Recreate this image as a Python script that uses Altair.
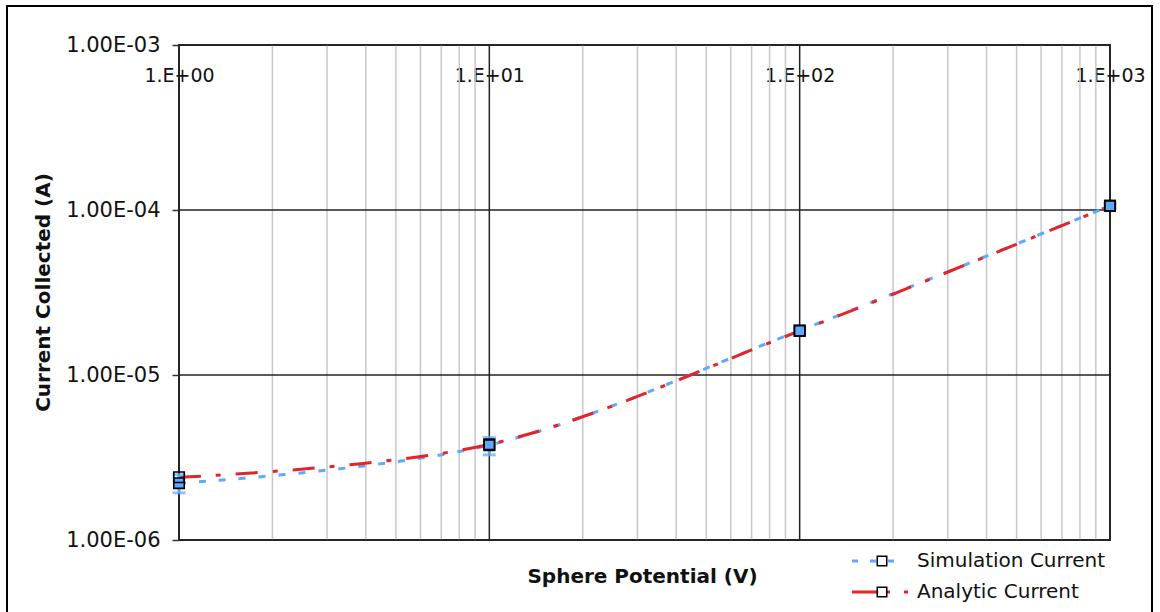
import altair as alt
import pandas as pd

# ---- data ----
potential = [1, 10, 100, 1000]
simulation_current = [2.21e-6, 3.76e-6, 1.86e-5, 1.06e-4]
simulation_low = [1.93e-6, 3.28e-6, 1.81e-5, 1.03e-4]
simulation_high = [2.49e-6, 4.18e-6, 1.91e-5, 1.09e-4]
analytic_current = [2.40e-6, 3.80e-6, 1.85e-5, 1.06e-4]

x_major = [1, 10, 100, 1000]
x_minor = [2, 3, 4, 5, 6, 7, 8, 9, 20, 30, 40, 50, 60, 70, 80, 90,
           200, 300, 400, 500, 600, 700, 800, 900]
y_major = [1e-6, 1e-5, 1e-4, 1e-3]

series_names = ["Simulation Current", "Analytic Current"]

BLUE = "#5ea9ff"
RED = "#e3242b"
FONT = "DejaVu Sans"

sim_df = pd.DataFrame({"V": potential, "I": simulation_current,
                       "lo": simulation_low, "hi": simulation_high})
ana_df = pd.DataFrame({"V": potential, "I": analytic_current})
xmin_df = pd.DataFrame({"V": x_minor})
xmaj_df = pd.DataFrame({"V": x_major})
ymaj_df = pd.DataFrame({"I": y_major})
one = pd.DataFrame({"a": [0]})

xs = alt.Scale(type="log", domain=[1, 1000], nice=False)
ys = alt.Scale(type="log", domain=[1e-6, 1e-3], nice=False)

x_axis = alt.Axis(
    orient="top", values=x_major,
    labelExpr="replace(format(datum.value, '.0e'), 'e+', '.E+0')",
    ticks=False, domain=False, grid=False,
    labelPadding=-30, labelBaseline="middle", labelAlign="center",
    labelFont=FONT, labelFontSize=19, labelColor="#111",
    labelFlush=False, labelOverlap=False, labelBound=False,
    title="Sphere Potential (V)", titleX=463, titleY=531,
    titleBaseline="middle", titleAlign="center", titleAngle=0,
    titleFont=FONT, titleFontSize=20, titleFontWeight="bold", titleColor="#111",
)
y_axis = alt.Axis(
    orient="left", values=y_major,
    labelExpr="replace(format(datum.value, '.2e'), 'e-', 'E-0')",
    tickSize=7, tickColor="#333", tickWidth=1.5, domain=False, grid=False,
    labelPadding=12, labelFont=FONT, labelFontSize=21, labelColor="#111",
    labelFlush=False, labelOverlap=False,
    title="Current Collected (A)", titleX=-136, titleY=247,
    titleAngle=270, titleBaseline="middle", titleAlign="center",
    titleFont=FONT, titleFontSize=20, titleFontWeight="bold", titleColor="#111",
)


def X(field):
    return alt.X(field, scale=xs, axis=x_axis)


def Y(field):
    return alt.Y(field, scale=ys, axis=y_axis)


minor_rules = alt.Chart(xmin_df).mark_rule(color="#c8c8c8", strokeWidth=1.5).encode(x=X("V:Q"))
xmajor_rules = alt.Chart(xmaj_df).mark_rule(color="#222", strokeWidth=1.5).encode(x=X("V:Q"))
ymajor_rules = alt.Chart(ymaj_df).mark_rule(color="#222", strokeWidth=1.5).encode(y=Y("I:Q"))

sim_line = alt.Chart(sim_df).mark_line(
    color=BLUE, strokeWidth=3, strokeDash=[7, 13], interpolate="catmull-rom").encode(
    x=X("V:Q"), y=Y("I:Q"))
ana_line = alt.Chart(ana_df).mark_line(
    color=RED, strokeWidth=3, strokeDash=[22, 15, 5, 15], interpolate="catmull-rom").encode(
    x=X("V:Q"), y=Y("I:Q"))

err_bar = alt.Chart(sim_df).mark_rule(color=BLUE, strokeWidth=3).encode(
    x=X("V:Q"), y=Y("lo:Q"), y2="hi:Q")
cap_lo = alt.Chart(sim_df).mark_tick(color=BLUE, orient="horizontal", size=13, thickness=3).encode(
    x=X("V:Q"), y=Y("lo:Q"))
cap_hi = alt.Chart(sim_df).mark_tick(color=BLUE, orient="horizontal", size=13, thickness=3).encode(
    x=X("V:Q"), y=Y("hi:Q"))

sim_pts = alt.Chart(sim_df).mark_square(
    size=110, fill=BLUE, fillOpacity=1, stroke="black", strokeWidth=1.6, opacity=1).encode(
    x=X("V:Q"), y=Y("I:Q"))
ana_pts = alt.Chart(ana_df).mark_point(
    shape="square", size=110, filled=False, stroke="black", strokeWidth=1.6, opacity=1).encode(
    x=X("V:Q"), y=Y("I:Q"))

# ---- legend (manual, below-right of plot) ----
leg_sim_line = alt.Chart(one).mark_rule(color=BLUE, strokeWidth=3, strokeDash=[6, 12]).encode(
    x=alt.value(673), x2=alt.value(719), y=alt.value(516))
leg_sim_pt = alt.Chart(one).mark_square(size=90, fill="white", stroke="black", strokeWidth=1.5,
                                        opacity=1).encode(x=alt.value(703), y=alt.value(516))
leg_sim_txt = alt.Chart(one).mark_text(align="left", baseline="middle", font=FONT,
                                       fontSize=20, color="#111").encode(
    x=alt.value(738), y=alt.value(516), text=alt.value(series_names[0]))
leg_ana_line = alt.Chart(one).mark_rule(color=RED, strokeWidth=3, strokeDash=[38, 14, 4, 10]).encode(
    x=alt.value(673), x2=alt.value(731), y=alt.value(547))
leg_ana_pt = alt.Chart(one).mark_square(size=90, fill="white", stroke="black", strokeWidth=1.5,
                                        opacity=1).encode(x=alt.value(703), y=alt.value(547))
leg_ana_txt = alt.Chart(one).mark_text(align="left", baseline="middle", font=FONT,
                                       fontSize=20, color="#111").encode(
    x=alt.value(738), y=alt.value(547), text=alt.value(series_names[1]))

border = alt.Chart(one).mark_rect(fillOpacity=0, stroke="black", strokeWidth=2).encode(
    x=alt.value(-172), x2=alt.value(973), y=alt.value(-39), y2=alt.value(580))

chart = alt.layer(
    minor_rules, xmajor_rules, ymajor_rules,
    sim_line, ana_line, err_bar, cap_lo, cap_hi, sim_pts, ana_pts,
    leg_sim_line, leg_sim_pt, leg_sim_txt, leg_ana_line, leg_ana_pt, leg_ana_txt,
    border,
).properties(
    width=931, height=495,
    padding={"left": 179, "top": 45, "right": 50, "bottom": 72},
    autosize=alt.AutoSizeParams(type="none"),
    background="white",
).configure_view(stroke="#333", strokeWidth=2)

chart.save("out.html", embed_options={"renderer": "svg", "actions": False})
